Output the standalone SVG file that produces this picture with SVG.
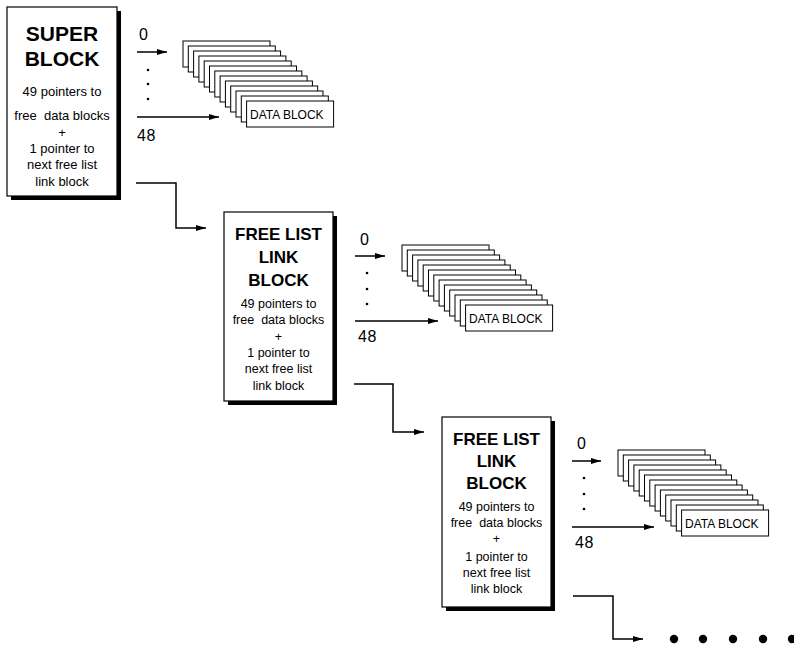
<svg xmlns="http://www.w3.org/2000/svg" xmlns:xlink="http://www.w3.org/1999/xlink" width="794" height="646" viewBox="0 0 794 646">
<style>
text { font-family: "Liberation Sans", Arial, sans-serif; fill: #000; }
.big { font-size: 21px; font-weight: bold; text-anchor: middle; }
.head { font-size: 17px; font-weight: bold; text-anchor: middle; }
.sm { font-size: 12.5px; text-anchor: middle; }
.sm13 { font-size: 13px; text-anchor: middle; }
.num { font-size: 16px; letter-spacing: 0.5px; }
.db { font-size: 12px; }
.box { fill: #fff; stroke: #000; stroke-width: 1.2; }
.shadow { fill: #000; }
.card { fill: #fff; stroke: #000; stroke-width: 1; }
.arr { fill: none; stroke: #000; stroke-width: 1.5; marker-end: url(#ah); }
.dot { fill: #000; }
</style>
<defs>
<marker id="ah" markerUnits="userSpaceOnUse" markerWidth="11" markerHeight="7" refX="10" refY="3.5" orient="auto">
<path d="M0,0.5 L10,3.5 L0,6.5 Z" fill="#000"/>
</marker>
<g id="stack">
<rect class="card" x="0" y="0" width="87" height="26"/>
<rect class="card" x="5.3" y="5" width="87" height="26"/>
<rect class="card" x="10.6" y="10" width="87" height="26"/>
<rect class="card" x="15.9" y="15" width="87" height="26"/>
<rect class="card" x="21.2" y="20" width="87" height="26"/>
<rect class="card" x="26.5" y="25" width="87" height="26"/>
<rect class="card" x="31.8" y="30" width="87" height="26"/>
<rect class="card" x="37.1" y="35" width="87" height="26"/>
<rect class="card" x="42.4" y="40" width="87" height="26"/>
<rect class="card" x="47.7" y="45" width="87" height="26"/>
<rect class="card" x="53" y="50" width="87" height="26"/>
<rect class="card" x="58.3" y="55" width="87" height="26"/>
<rect class="card" x="63.6" y="60" width="87" height="26"/>
<text class="db" x="67" y="77.5">DATA BLOCK</text>
</g>
</defs>

<g id="super-block">
<rect class="shadow" x="11" y="11" width="110" height="189"/>
<rect class="box" x="7" y="7" width="110" height="189"/>
<text class="big" x="62" y="41">SUPER</text>
<text class="big" x="62" y="66">BLOCK</text>
<text class="sm13" x="62" y="96">49 pointers to</text>
<text class="sm13" x="62" y="120">free&#160; data blocks</text>
<text class="sm13" x="62" y="137">+</text>
<text class="sm13" x="62" y="153">1 pointer to</text>
<text class="sm13" x="62" y="169">next free list</text>
<text class="sm13" x="62" y="186">link block</text>
</g>

<g id="data-blocks-1">
<use xlink:href="#stack" x="183" y="41"/>
</g>

<g id="free-list-link-block-1">
<rect class="shadow" x="228" y="216" width="109" height="189"/>
<rect class="box" x="224" y="212" width="109" height="189"/>
<text class="head" x="278.5" y="240">FREE LIST</text>
<text class="head" x="278.5" y="263">LINK</text>
<text class="head" x="278.5" y="286">BLOCK</text>
<text class="sm" x="278.5" y="308">49 pointers to</text>
<text class="sm" x="278.5" y="324">free&#160; data blocks</text>
<text class="sm" x="278.5" y="341">+</text>
<text class="sm" x="278.5" y="357">1 pointer to</text>
<text class="sm" x="278.5" y="373">next free list</text>
<text class="sm" x="278.5" y="390">link block</text>
</g>

<g id="data-blocks-2">
<use xlink:href="#stack" x="402" y="245"/>
</g>

<g id="free-list-link-block-2">
<rect class="shadow" x="446" y="421" width="109" height="190"/>
<rect class="box" x="442" y="417" width="109" height="190"/>
<text class="head" x="496.5" y="445">FREE LIST</text>
<text class="head" x="496.5" y="467">LINK</text>
<text class="head" x="496.5" y="489">BLOCK</text>
<text class="sm" x="496.5" y="511">49 pointers to</text>
<text class="sm" x="496.5" y="527">free&#160; data blocks</text>
<text class="sm" x="496.5" y="543">+</text>
<text class="sm" x="496.5" y="561">1 pointer to</text>
<text class="sm" x="496.5" y="577">next free list</text>
<text class="sm" x="496.5" y="593">link block</text>
</g>

<g id="data-blocks-3">
<use xlink:href="#stack" x="618" y="450"/>
</g>

<g id="connectors">
<text class="num" x="139" y="40">0</text>
<line class="arr" x1="137" y1="52" x2="167" y2="52"/>
<circle class="dot" cx="148" cy="70" r="1.3"/>
<circle class="dot" cx="148" cy="84" r="1.3"/>
<circle class="dot" cx="148" cy="99" r="1.3"/>
<line class="arr" x1="137" y1="117" x2="219" y2="117"/>
<text class="num" x="137" y="141">48</text>
<polyline class="arr" points="136,183 176,183 176,228 206,228"/>

<text class="num" x="360" y="245">0</text>
<line class="arr" x1="355" y1="256" x2="385" y2="256"/>
<circle class="dot" cx="367" cy="273" r="1.3"/>
<circle class="dot" cx="367" cy="289" r="1.3"/>
<circle class="dot" cx="367" cy="304" r="1.3"/>
<line class="arr" x1="355" y1="321" x2="438" y2="321"/>
<text class="num" x="358" y="342">48</text>
<polyline class="arr" points="354,384 393,384 393,432 424,432"/>

<text class="num" x="577" y="449">0</text>
<line class="arr" x1="572" y1="461" x2="601" y2="461"/>
<circle class="dot" cx="584" cy="478" r="1.3"/>
<circle class="dot" cx="584" cy="494" r="1.3"/>
<circle class="dot" cx="584" cy="509" r="1.3"/>
<line class="arr" x1="572" y1="527" x2="654" y2="527"/>
<text class="num" x="575" y="548">48</text>
<polyline class="arr" points="573,596 613,596 613,639 643,639"/>

<circle class="dot" cx="674" cy="639" r="4.2"/>
<circle class="dot" cx="703" cy="639" r="4.2"/>
<circle class="dot" cx="733" cy="639" r="4.2"/>
<circle class="dot" cx="763" cy="639" r="4.2"/>
<circle class="dot" cx="792" cy="639" r="4.2"/>
</g>
</svg>
